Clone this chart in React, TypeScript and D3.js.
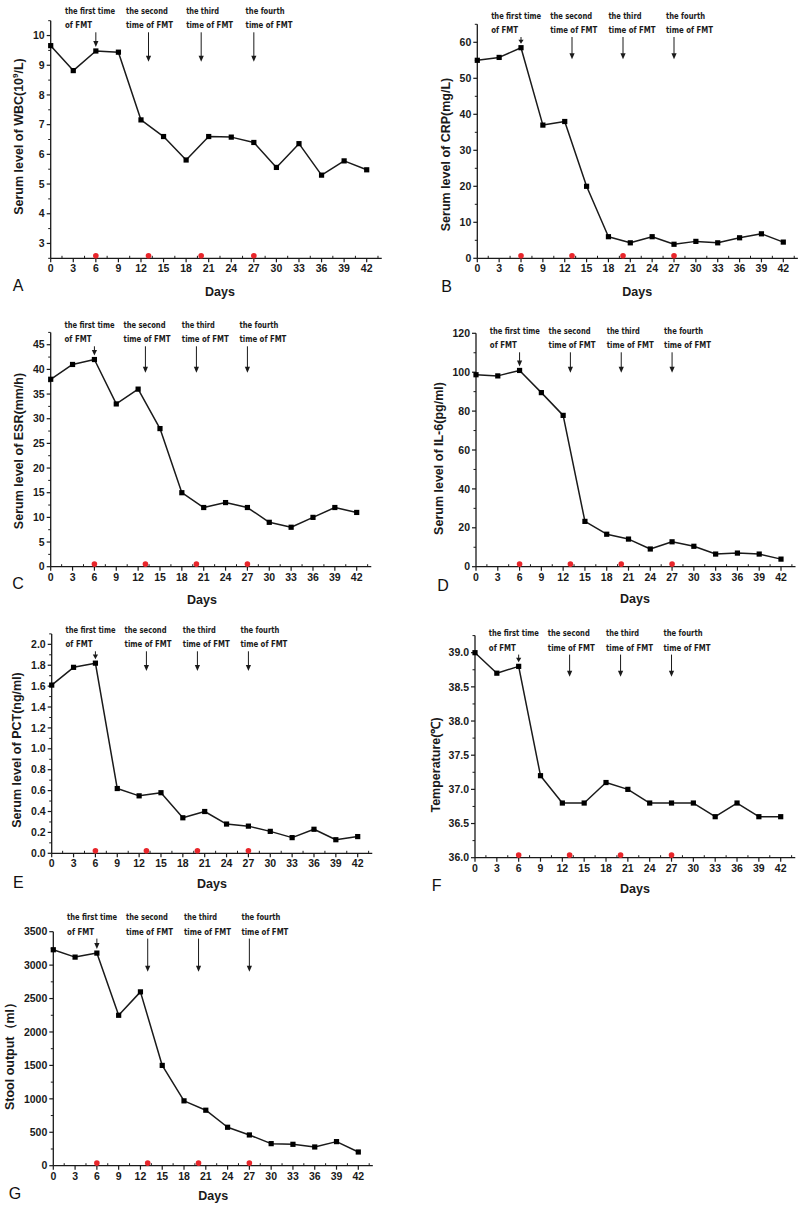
import React from "react";
import * as d3 from "d3";

// ---------- data ----------
const days = [0, 3, 6, 9, 12, 15, 18, 21, 24, 27, 30, 33, 36, 39, 42];
const wbc = [9.66, 8.82, 9.48, 9.44, 7.16, 6.6, 5.81, 6.6, 6.58, 6.4, 5.56, 6.36, 5.3, 5.78, 5.48];
const crp = [55, 55.8, 58.5, 37, 38, 20, 6, 4.3, 6, 3.9, 4.7, 4.3, 5.7, 6.8, 4.5];
const esr = [38, 41, 42, 33, 36, 28, 15, 12, 13, 12, 9, 8, 10, 12, 11];
const il6 = [98.7, 98.1, 100.9, 89.5, 77.8, 23.3, 16.7, 14.2, 9.1, 12.8, 10.5, 6.5, 7, 6.5, 3.9];
const pct = [1.61, 1.78, 1.82, 0.62, 0.55, 0.58, 0.34, 0.4, 0.28, 0.26, 0.21, 0.15, 0.23, 0.13, 0.16];
const temperature = [39.0, 38.7, 38.8, 37.2, 36.8, 36.8, 37.1, 37.0, 36.8, 36.8, 36.8, 36.6, 36.8, 36.6, 36.6];
const stool = [3230, 3120, 3180, 2250, 2600, 1500, 970, 830, 575, 460, 330, 320, 280, 360, 205];

const fmtDays = [6, 13, 20, 27];
const fmtLabelDays = [1.9, 10, 18, 25.9];
const fmtLabels = [
  ["the first time", "of FMT"],
  ["the second", "time of FMT"],
  ["the third", "time of FMT"],
  ["the fourth", "time of FMT"],
];
const fmtWidths = [
  [50, 27],
  [42, 47],
  [33, 47],
  [39, 47],
];
const xMajorTicks = d3.range(0, 43, 3);
const xMinorTicks = d3.range(1.5, 44.1, 1.5).filter((d) => Math.abs(d % 3) > 0.01);

type Cfg = {
  letter: string;
  values: number[];
  yLabel: React.ReactNode;
  yDomain: [number, number];
  yStep: number;
  fmt: (n: number) => string;
  x0: number;
  x42: number;
  yBottom: number;
  yTop: number;
  line1: number;
  arrowEnd: number;
  yLabelX: number;
  yLabelY: number;
  daysX: number;
  daysY: number;
  letterX: number;
  letterY: number;
};

const fInt = d3.format("d");
const f1 = d3.format(".1f");

const panels: Cfg[] = [
  {
    letter: "A", values: wbc,
    yLabel: (<>Serum level of WBC(10<tspan fontSize={8} dy={-5}>9</tspan><tspan dy={5}>/L)</tspan></>),
    yDomain: [2.5, 10.5], yStep: 1, fmt: fInt,
    x0: 50.7, x42: 366.7, yBottom: 258.3, yTop: 20.7,
    line1: 11, arrowEnd: 61.7, yLabelX: 19, yLabelY: 136.5,
    daysX: 220, daysY: 291.7, letterX: 18, letterY: 285,
  },
  {
    letter: "B", values: crp, yLabel: "Serum level of CRP(mg/L)",
    yDomain: [0, 65], yStep: 10, fmt: fInt,
    x0: 477.3, x42: 783.3, yBottom: 258.3, yTop: 24.3,
    line1: 15.7, arrowEnd: 59.3, yLabelX: 445.7, yLabelY: 154.5,
    daysX: 637.3, daysY: 291.7, letterX: 446.7, letterY: 286.7,
  },
  {
    letter: "C", values: esr, yLabel: "Serum level of ESR(mm/h)",
    yDomain: [0, 47.5], yStep: 5, fmt: fInt,
    x0: 50.7, x42: 356.7, yBottom: 566.7, yTop: 332.4,
    line1: 325, arrowEnd: 372.7, yLabelX: 18.3, yLabelY: 451,
    daysX: 202, daysY: 599.3, letterX: 18, letterY: 583,
  },
  {
    letter: "D", values: il6, yLabel: "Serum level of IL-6(pg/ml)",
    yDomain: [0, 120], yStep: 20, fmt: fInt,
    x0: 476, x42: 781, yBottom: 566.7, yTop: 333.3,
    line1: 331, arrowEnd: 372.7, yLabelX: 438.3, yLabelY: 458.5,
    daysX: 635, daysY: 599, letterX: 443, letterY: 585,
  },
  {
    letter: "E", values: pct, yLabel: "Serum level of PCT(ng/ml)",
    yDomain: [0, 2.1], yStep: 0.2, fmt: f1,
    x0: 51.7, x42: 357.7, yBottom: 853.3, yTop: 633.9,
    line1: 630, arrowEnd: 671, yLabelX: 16.7, yLabelY: 750,
    daysX: 212, daysY: 884, letterX: 18.3, letterY: 882.7,
  },
  {
    letter: "F", values: temperature, yLabel: "Temperature(\u2103)",
    yDomain: [36, 39.25], yStep: 0.5, fmt: f1,
    x0: 475, x42: 780.7, yBottom: 857.7, yTop: 635.6,
    line1: 633.3, arrowEnd: 676.7, yLabelX: 436, yLabelY: 765,
    daysX: 635, daysY: 889, letterX: 436.7, letterY: 885.7,
  },
  {
    letter: "G", values: stool, yLabel: "Stool output\uFF08ml\uFF09",
    yDomain: [0, 3500], yStep: 500, fmt: fInt,
    x0: 53.3, x42: 358.3, yBottom: 1165.7, yTop: 931.7,
    line1: 917.3, arrowEnd: 971.7, yLabelX: 10, yLabelY: 1053,
    daysX: 213.3, daysY: 1196, letterX: 15, letterY: 1193,
  },
];

const SANS = "'Liberation Sans', Arial, Helvetica, sans-serif";
const NARROW = "'Liberation Sans Narrow', 'DejaVu Sans Condensed', 'Liberation Sans', sans-serif";
const INK = "#1a1a1a";

function Arrow({ x, y1, y2 }: { x: number; y1: number; y2: number }) {
  const head = Math.min(6, Math.max(3, (y2 - y1) * 0.6));
  return (
    <g>
      <line x1={x} x2={x} y1={y1} y2={y2 - head + 0.5} stroke={INK} strokeWidth={1} />
      <path d={`M${x - 2.6},${y2 - head} L${x + 2.6},${y2 - head} L${x},${y2} Z`} fill={INK} />
    </g>
  );
}

function Panel({ c }: { c: Cfg }) {
  const x = d3.scaleLinear().domain([0, 42]).range([c.x0, c.x42]);
  const y = d3.scaleLinear().domain(c.yDomain).range([c.yBottom, c.yTop]);
  const xEnd = x(44);
  const h = c.yStep / 2;
  const nStart = Math.ceil(c.yDomain[0] / h - 1e-6);
  const nEnd = Math.floor(c.yDomain[1] / h + 1e-6);
  const yMajor: number[] = [];
  const yMinor: number[] = [];
  for (let n = nStart; n <= nEnd; n++) {
    const v = Math.round(n * h * 1000) / 1000;
    if (n % 2 === 0) yMajor.push(v);
    else yMinor.push(v);
  }
  const path = d3
    .line<number>()
    .x((_, i) => x(days[i]))
    .y((v) => y(v))(c.values) as string;
  const line2 = c.line1 + 14.3;
  const idx6 = days.indexOf(6);
  return (
    <g>
      {/* axes */}
      <line x1={c.x0} x2={c.x0} y1={c.yTop} y2={c.yBottom} stroke={INK} strokeWidth={1.3} />
      <line x1={c.x0} x2={xEnd} y1={c.yBottom} y2={c.yBottom} stroke={INK} strokeWidth={1.3} />
      {yMajor.map((v) => (
        <g key={"ym" + v}>
          <line x1={c.x0 - 4} x2={c.x0} y1={y(v)} y2={y(v)} stroke={INK} strokeWidth={1.2} />
          <text x={c.x0 - 6} y={y(v)} dy="0.35em" textAnchor="end" fontFamily={SANS} fontWeight="bold" fontSize={10.5} fill={INK}>
            {c.fmt(v)}
          </text>
        </g>
      ))}
      {yMinor.map((v) => (
        <line key={"yn" + v} x1={c.x0 - 2.5} x2={c.x0} y1={y(v)} y2={y(v)} stroke={INK} strokeWidth={1} />
      ))}
      {xMajorTicks.map((d) => (
        <g key={"xm" + d}>
          <line x1={x(d)} x2={x(d)} y1={c.yBottom} y2={c.yBottom + 4} stroke={INK} strokeWidth={1.2} />
          <text x={x(d)} y={c.yBottom + 14} textAnchor="middle" fontFamily={SANS} fontWeight="bold" fontSize={10.5} fill={INK}>
            {d}
          </text>
        </g>
      ))}
      {xMinorTicks.map((d) => (
        <line key={"xn" + d} x1={x(d)} x2={x(d)} y1={c.yBottom} y2={c.yBottom - 2.5} stroke={INK} strokeWidth={1} />
      ))}
      {/* titles */}
      <text
        transform={`translate(${c.yLabelX},${c.yLabelY}) rotate(-90)`}
        dy="0.35em"
        textAnchor="middle"
        fontFamily={SANS}
        fontWeight="bold"
        fontSize={12.5}
        fill={INK}
      >
        {c.yLabel}
      </text>
      <text x={c.daysX} y={c.daysY} dy="0.35em" textAnchor="middle" fontFamily={SANS} fontWeight="bold" fontSize={12.5} fill={INK}>
        Days
      </text>
      <text x={c.letterX} y={c.letterY} dy="0.35em" textAnchor="middle" fontFamily={SANS} fontSize={16} fill="#111">
        {c.letter}
      </text>
      {/* FMT red dots */}
      {fmtDays.map((d) => (
        <circle key={"r" + d} cx={x(d)} cy={c.yBottom - 2.6} r={2.8} fill="#e8262b" />
      ))}
      {/* data line */}
      <path d={path} fill="none" stroke={INK} strokeWidth={1.5} strokeLinejoin="round" />
      {c.values.map((v, i) => (
        <rect key={"p" + i} x={x(days[i]) - 2.6} y={y(v) - 2.6} width={5.2} height={5.2} fill="#000" />
      ))}
      {/* annotations */}
      {fmtLabels.map((lab, i) => (
        <g key={"a" + i}>
          <text x={x(fmtLabelDays[i])} y={c.line1 + 3} fontFamily={NARROW} fontWeight="bold" fontSize={9.5}
            textLength={fmtWidths[i][0]} lengthAdjust="spacingAndGlyphs" fill={INK}>
            {lab[0]}
          </text>
          <text x={x(fmtLabelDays[i])} y={line2 + 3} fontFamily={NARROW} fontWeight="bold" fontSize={9.5}
            textLength={fmtWidths[i][1]} lengthAdjust="spacingAndGlyphs" fill={INK}>
            {lab[1]}
          </text>
          {i === 0 ? (
            <Arrow x={x(fmtDays[0])} y1={line2 + 7} y2={y(c.values[idx6]) - 4} />
          ) : (
            <Arrow x={x(fmtDays[i])} y1={line2 + 7} y2={c.arrowEnd} />
          )}
        </g>
      ))}
    </g>
  );
}

export default function App() {
  return (
    <svg
      width={800}
      height={1207}
      viewBox="0 0 800 1207"
      style={{ position: "absolute", left: 0, top: 0, background: "#fff" }}
    >
      <rect x={0} y={0} width={800} height={1207} fill="#fff" />
      {panels.map((c) => (
        <Panel key={c.letter} c={c} />
      ))}
    </svg>
  );
}
